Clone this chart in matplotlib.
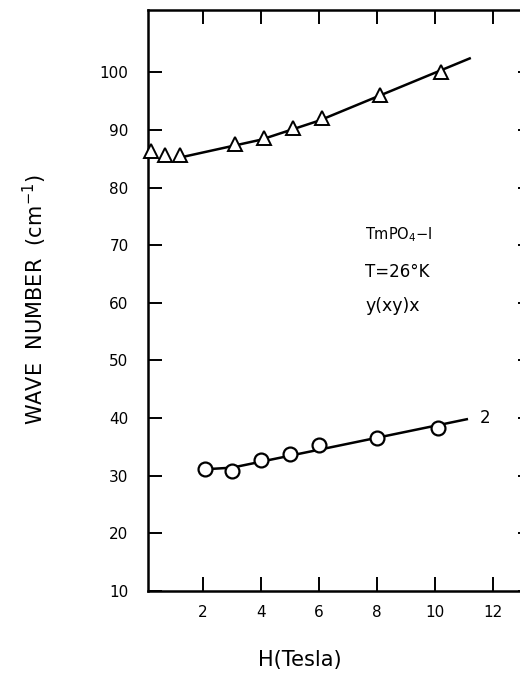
import matplotlib.pyplot as plt
import numpy as np

# mode 1 (triangles) and mode 2 (circles)
h_tri = [0.2, 0.7, 1.2, 3.1, 4.1, 5.1, 6.1, 8.1, 10.2]
w_tri = [86.3, 85.6, 85.6, 87.6, 88.6, 90.3, 92.1, 96.0, 100.1]
h_tri_line = [1.2, 4.0, 6.0, 11.2]
w_tri_line = [85.2, 88.3, 91.6, 102.4]

h_circ = [2.05, 3.0, 4.0, 5.0, 6.0, 8.0, 10.1]
w_circ = [31.2, 30.9, 32.8, 33.7, 35.3, 36.6, 38.2]
h_circ_line = [2.0, 3.0, 11.1]
w_circ_line = [31.1, 31.4, 39.8]

xticks = [2, 4, 6, 8, 10, 12]
yticks = [10, 20, 30, 40, 50, 60, 70, 80, 90, 100]

fig = plt.figure(figsize=(5.2, 6.77), dpi=100)
ax = fig.add_axes([148/520, 1-591/677, 384/520, 581/677])

ax.plot(h_tri_line, w_tri_line, color="black", lw=1.8, zorder=2)
ax.plot(h_tri, w_tri, "^", ms=10, mfc="white", mec="black", mew=1.4, zorder=3, clip_on=False)
ax.plot(h_circ_line, w_circ_line, color="black", lw=1.8, zorder=2)
ax.plot(h_circ, w_circ, "o", ms=10, mfc="white", mec="black", mew=1.6, zorder=3)

ax.set_xlim(0.1, 13.35)
ax.set_ylim(10, 110.8)
ax.set_xticks(xticks)
ax.set_yticks(yticks)
ax.set_xticklabels(["2", "4", "6", "8", "10", "12"])
ax.tick_params(direction="in", top=True, right=True, length=10, width=1.4,
               labelsize=11)
ax.tick_params(axis="y", pad=14)
ax.tick_params(axis="x", pad=10)
for s in ax.spines.values():
    s.set_linewidth(1.8)

ax.text(11.55, 40.1, "2", fontsize=12, va="center")
ax.text(7.6, 71.8, "TmPO$_4$−I", fontsize=10.5, va="center")
ax.text(7.6, 65.3, "T=26°K", fontsize=12, va="center")
ax.text(7.6, 59.4, "y(xy)x", fontsize=12.5, va="center")

fig.text(35/520, 1-300/677, "WAVE  NUMBER  (cm$^{-1}$)", rotation=90,
         fontsize=15, ha="center", va="center")
fig.text(300/520, 1-660/677, "H(Tesla)", fontsize=15, ha="center", va="center")

fig.savefig("out.png", dpi=100)
